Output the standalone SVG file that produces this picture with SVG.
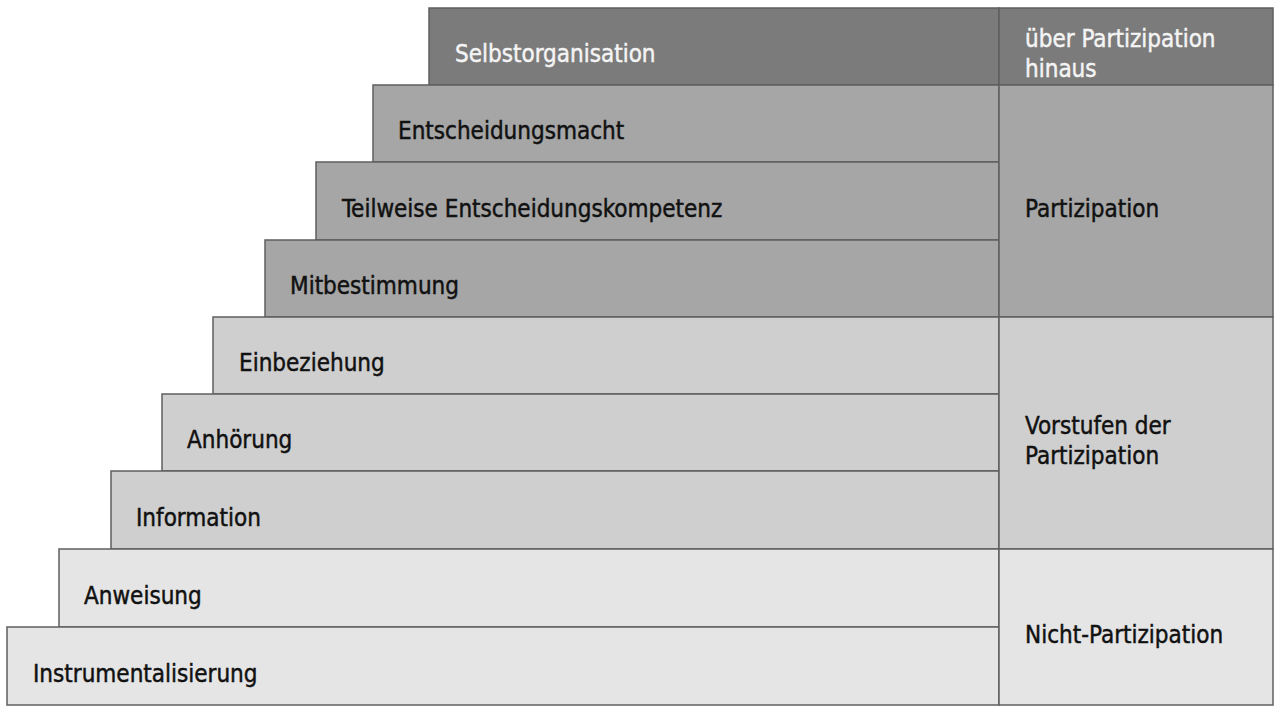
<svg xmlns="http://www.w3.org/2000/svg" width="1280" height="713" viewBox="0 0 1280 713">
<style>
.s{stroke:#5f5f5f;stroke-width:1.5}
.d{fill:#7b7b7b}
.m{fill:#a6a6a6}
.l{fill:#cfcfcf}
.x{fill:#e5e5e5}
text{font-family:"DejaVu Sans Condensed","DejaVu Sans",sans-serif;font-size:24px;fill:#111;stroke:#111;stroke-width:0.45}
.w{fill:#f4f4f4;stroke:#f4f4f4}
</style>
<rect width="1280" height="713" fill="#fff"/>
<g id="stairs">
<g id="n-selbstorganisation"><rect class="s d" x="429" y="8" width="570" height="77"/><text class="w" x="455" y="62">Selbstorganisation</text></g>
<g id="n-entscheidungsmacht"><rect class="s m" x="373" y="85" width="626" height="77"/><text x="398" y="139">Entscheidungsmacht</text></g>
<g id="n-teilweise"><rect class="s m" x="316" y="162" width="683" height="78"/><text x="342" y="217">Teilweise Entscheidungskompetenz</text></g>
<g id="n-mitbestimmung"><rect class="s m" x="265" y="240" width="734" height="77"/><text x="290" y="294">Mitbestimmung</text></g>
<g id="n-einbeziehung"><rect class="s l" x="213" y="317" width="786" height="77"/><text x="239" y="371">Einbeziehung</text></g>
<g id="n-anhoerung"><rect class="s l" x="162" y="394" width="837" height="77"/><text x="187" y="448">Anhörung</text></g>
<g id="n-information"><rect class="s l" x="111" y="471" width="888" height="78"/><text x="136" y="526">Information</text></g>
<g id="n-anweisung"><rect class="s x" x="59" y="549" width="940" height="78"/><text x="84" y="604">Anweisung</text></g>
<g id="n-instrumentalisierung"><rect class="s x" x="7" y="627" width="992" height="78"/><text x="33" y="682">Instrumentalisierung</text></g>
</g>
<g id="categories">
<g id="c-ueber"><rect class="s d" x="999" y="8" width="274" height="77"/><text class="w" x="1025" y="47">über Partizipation</text><text class="w" x="1025" y="77">hinaus</text></g>
<g id="c-partizipation"><rect class="s m" x="999" y="85" width="274" height="232"/><text x="1025" y="217">Partizipation</text></g>
<g id="c-vorstufen"><rect class="s l" x="999" y="317" width="274" height="232"/><text x="1025" y="434">Vorstufen der</text><text x="1025" y="464">Partizipation</text></g>
<g id="c-nicht"><rect class="s x" x="999" y="549" width="274" height="156"/><text x="1025" y="643">Nicht-Partizipation</text></g>
</g>
<g id="connectors"/>
</svg>
